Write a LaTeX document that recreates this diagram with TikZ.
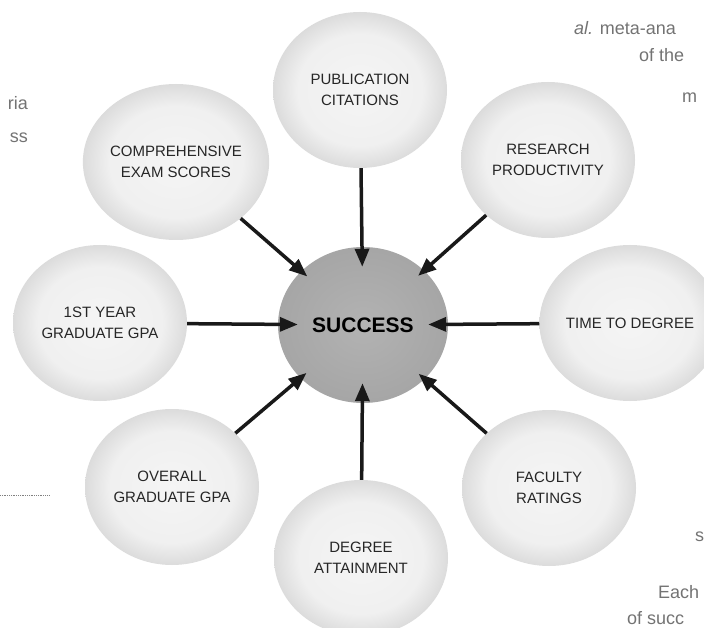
\documentclass[tikz,border=0pt]{standalone}
\usepackage{fontspec}
\setmainfont{Liberation Sans}
\usetikzlibrary{arrows.meta, shapes.geometric}

\pgfdeclareradialshading{ring}{\pgfpoint{0bp}{0bp}}{color(0bp)=(black!4); color(18bp)=(black!6); color(34bp)=(black!24); color(45bp)=(black!23); color(50bp)=(black!12)}
\pgfdeclareradialshading{hub}{\pgfpoint{0bp}{0bp}}{color(0bp)=(black!30); color(35bp)=(black!37); color(50bp)=(black!47)}

\begin{document}
\begin{tikzpicture}[x=1pt, y=-1pt,
		factor/.style={ellipse, minimum width=174pt, minimum height=156pt, inner sep=0pt, shading=ring, align=center, text=black!85, font=\fontsize{15}{21}\selectfont},
		successnode/.style={ellipse, minimum width=170pt, minimum height=156pt, inner sep=0pt, shading=hub, text=black, font=\fontsize{21}{24}\selectfont\bfseries},
		arr/.style={line width=3.5pt, black!90, -{Triangle[length=18pt, width=14pt]}},
		page/.style={text=black!55, font=\fontsize{18}{20}\selectfont, inner sep=0pt}]

			\useasboundingbox (0,0) rectangle (704,628);

			% text of the page round the figure
			\begin{scope}
				\clip (0,0) rectangle (704,628);
				\node[page, anchor=base east] (ria) at (28,110) {ria};
				\node[page, anchor=base east] (ss) at (28,143) {ss};
				\node[page, anchor=base west] (meta) at (574,35) {\textit{al.} meta-ana};
				\node[page, anchor=base west] (ofthe) at (639,62) {of the};
				\node[page, anchor=base west] (m) at (682,103) {m};
				\node[page, anchor=base west] (s) at (695,541) {s};
				\node[page, anchor=base west] (each) at (658,598) {Each};
				\node[page, anchor=base west] (ofsucc) at (627,624) {of succ};
				\draw[black!50, line width=0.8pt, densely dotted] (0,495) -- (49,495);
			\end{scope}

			\node[factor] (pub) at (360,90) {PUBLICATION\\CITATIONS};
			\node[factor] (comp) at (176,162) {COMPREHENSIVE\\EXAM SCORES};
			\node[factor] (res) at (548,160) {RESEARCH\\PRODUCTIVITY};
			\node[factor] (first) at (100,323) {1ST YEAR\\GRADUATE GPA};
			\node[factor] (time) at (630,323) {TIME TO DEGREE};
			\node[factor] (overall) at (172,487) {OVERALL\\GRADUATE GPA};
			\node[factor] (degree) at (361,558) {DEGREE\\ATTAINMENT};
			\node[factor] (faculty) at (549,488) {FACULTY\\RATINGS};

			\node[successnode] (succ) at (363,325) {SUCCESS};

			\draw[arr, shorten >=-20pt] (pub) -- (succ);
			\draw[arr, shorten >=-20pt] (first) -- (succ);
			\draw[arr, shorten >=-20pt] (time) -- (succ);
			\draw[arr, shorten >=-20pt] (degree) -- (succ);
			\draw[arr, shorten >=-8pt] (comp) -- (succ);
			\draw[arr, shorten >=-8pt] (res) -- (succ);
			\draw[arr, shorten >=-8pt] (overall) -- (succ);
			\draw[arr, shorten >=-8pt] (faculty) -- (succ);
		\end{tikzpicture}
\end{document}
